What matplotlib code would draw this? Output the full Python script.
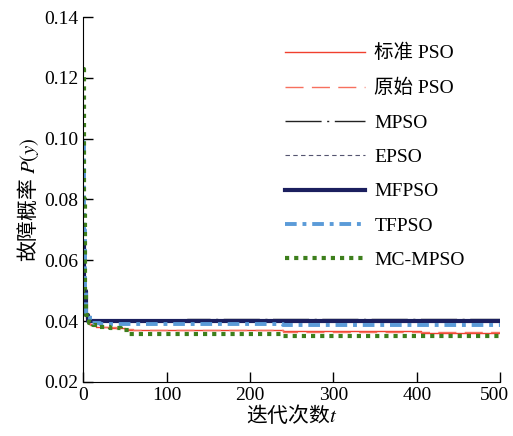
import numpy as np
import matplotlib
matplotlib.use('Agg')
import matplotlib.pyplot as plt
from matplotlib.transforms import ScaledTranslation

plt.rcParams['font.family'] = ['Liberation Serif', 'Noto Sans CJK SC']
plt.rcParams['mathtext.fontset'] = 'stix'

# breakpoints (iteration, value), drawn as steps
labels = ['标准 PSO', '原始 PSO', 'MPSO', 'EPSO', 'MFPSO', 'TFPSO', 'MC-MPSO']

std_it = [0, 2, 4, 7, 15, 30, 50, 240, 325, 405, 500]
std_val = [0.052, 0.047, 0.042, 0.039, 0.0382, 0.0376, 0.0372, 0.0368, 0.0366, 0.0362, 0.0362]

orig_it = [0, 2, 4, 8, 20, 40, 60, 240, 500]
orig_val = [0.050, 0.046, 0.041, 0.0388, 0.038, 0.0374, 0.0372, 0.0365, 0.0365]

mpso_it = [0, 1, 3, 6, 125, 500]
mpso_val = [0.058, 0.048, 0.042, 0.0401, 0.0407, 0.0407]

epso_it = [0, 1, 3, 6, 500]
epso_val = [0.060, 0.047, 0.042, 0.0402, 0.0402]

mf_it = [0, 1, 3, 6, 240, 500]
mf_val = [0.066, 0.050, 0.042, 0.0401, 0.0399, 0.0399]

tf_it = [0, 1, 2, 4, 8, 20, 60, 240, 500]
tf_val = [0.099, 0.070, 0.050, 0.042, 0.0395, 0.0392, 0.0390, 0.0386, 0.0386]

mc_it = [0, 1, 2, 4, 7, 12, 20, 32, 45, 55, 240, 500]
mc_val = [0.123, 0.080, 0.050, 0.042, 0.0395, 0.0388, 0.0382, 0.0378, 0.0372, 0.0359, 0.0351, 0.0351]

series = [(std_it, std_val), (orig_it, orig_val), (mpso_it, mpso_val), (epso_it, epso_val),
          (mf_it, mf_val), (tf_it, tf_val), (mc_it, mc_val)]

styles = [
    dict(color='#f0402e', lw=1.0, ls='-'),
    dict(color='#f7705e', lw=1.0, ls=(0, (13, 6))),
    dict(color='#222222', lw=1.0, ls=(0, (26, 4, 1.5, 4))),
    dict(color='#555570', lw=0.8, ls=(0, (4, 3))),
    dict(color='#1b1f5e', lw=3.0, ls='-'),
    dict(color='#5b9bd8', lw=2.8, ls=(0, (3, 1.5, 1, 1.5))),
    dict(color='#3d7f1c', lw=3.0, ls=(0, (1, 1.2))),
]

fig = plt.figure(figsize=(5.13, 4.36), dpi=100)
ax = fig.add_axes([0.162, 0.124, 0.813, 0.837])

for (it, val), lab, st in zip(series, labels, styles):
    ax.plot(it, val, drawstyle='steps-post', label=lab, **st)

ax.set_xlim(0, 500)
ax.set_ylim(0.02, 0.14)
ax.set_xticks(np.arange(0, 501, 100))
ax.set_yticks(np.arange(0.02, 0.1401, 0.02))
ax.set_yticklabels(['0.02', '0.04', '0.06', '0.08', '0.10', '0.12', '0.14'])
ax.tick_params(direction='in', length=7, labelsize=14, width=1)
ax.spines['top'].set_visible(False)
ax.spines['right'].set_visible(False)

# pull the last x label in a little, as in the original
lastlab = ax.get_xticklabels()[-1]
lastlab.set_transform(lastlab.get_transform() + ScaledTranslation(-6 / 100, 0, fig.dpi_scale_trans))

ax.set_xlabel('迭代次数$t$', fontsize=15, labelpad=0, family='Noto Sans CJK SC')
ax.set_ylabel('故障概率 $P(y)$', fontsize=15, labelpad=2, family='Noto Sans CJK SC')

fig.legend(loc='upper left', bbox_to_anchor=(285 / 513, 1 - 44 / 436), frameon=False,
           fontsize=14, handlelength=4.1, handletextpad=0.5, labelspacing=0.86,
           borderpad=0, borderaxespad=0)

fig.savefig('out.png', dpi=100)
